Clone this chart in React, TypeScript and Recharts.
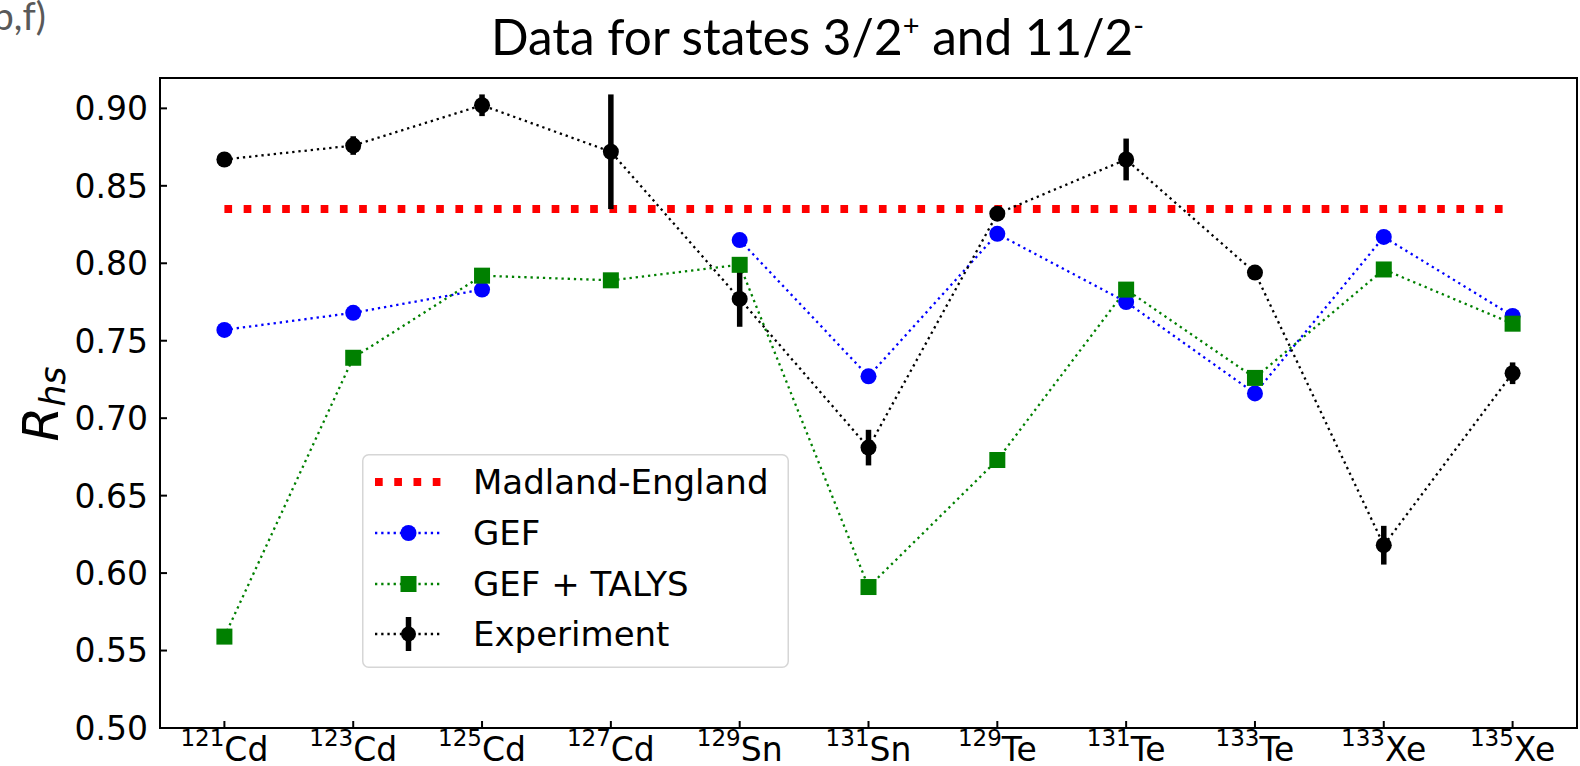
import React from "react";
import {
  ComposedChart,
  Line,
  XAxis,
  YAxis,
  ErrorBar,
  Legend,
  ReferenceArea,
} from "recharts";

const masses = ["121", "123", "125", "127", "129", "131", "129", "131", "133", "133", "135"];
const elements = ["Cd", "Cd", "Cd", "Cd", "Sn", "Sn", "Te", "Te", "Te", "Xe", "Xe"];
const madlandEngland = [0.835, 0.835, 0.835, 0.835, 0.835, 0.835, 0.835, 0.835, 0.835, 0.835, 0.835];
const gef = [0.757, 0.768, 0.783, null, 0.815, 0.727, 0.819, 0.775, 0.716, 0.817, 0.766];
const gefTalys = [0.559, 0.739, 0.792, 0.789, 0.799, 0.591, 0.673, 0.783, 0.726, 0.796, 0.761];
const experiment = [0.867, 0.876, 0.902, 0.872, 0.777, 0.681, 0.832, 0.867, 0.794, 0.618, 0.729];
const experimentErr = [0.003, 0.006, 0.007, 0.037, 0.018, 0.0115, 0.003, 0.0135, 0.003, 0.0125, 0.007];
const yTicks = [0.5, 0.55, 0.6, 0.65, 0.7, 0.75, 0.8, 0.85, 0.9];
const yDomain: [number, number] = [0.5, 0.9196];
const frameDomain: [number, number] = [0, 10];
const legendOrder = ["me", "gef", "talys", "exp"];

const categories = masses.map((m, i) => m + elements[i]);

const data = categories.map((name, i) => ({
  name,
  me: madlandEngland[i],
  gef: gef[i],
  talys: gefTalys[i],
  exp: experiment[i],
  expErr: experimentErr[i],
}));

const FONT = "'DejaVu Sans', sans-serif";

const YTick = (props: any) => {
  const { x, y, payload } = props;
  return (
    <g>
      <line x1={x} x2={x + 7} y1={y} y2={y} stroke="#000" strokeWidth={2} />
      <text x={x - 12} y={y} dy="0.36em" textAnchor="end" fontSize={33} fontFamily={FONT} fill="#000">
        {Number(payload.value).toFixed(2)}
      </text>
    </g>
  );
};

const XTick = (props: any) => {
  const { x, y, payload } = props;
  const i = categories.indexOf(payload.value);
  return (
    <g>
      <line x1={x} x2={x} y1={y} y2={y - 7} stroke="#000" strokeWidth={2} />
      <text x={x} y={y + 33} textAnchor="middle" fontFamily={FONT} fill="#000">
        <tspan fontSize={23} dy={-15}>{masses[i]}</tspan>
        <tspan fontSize={33} dy={15}>{elements[i]}</tspan>
      </text>
    </g>
  );
};

const SquareDot = (props: any) => {
  const { cx, cy, index } = props;
  if (cx == null || cy == null) return <g key={`sq-${index}`} />;
  return <rect key={`sq-${index}`} x={cx - 8} y={cy - 8} width={16} height={16} fill="#008000" />;
};

const rowY = [28, 79, 130, 180];

const legendIcon = (key: string, y: number) => {
  const x1 = 13;
  const x2 = 80;
  const cx = (x1 + x2) / 2;
  if (key === "me")
    return <line x1={x1} x2={x2} y1={y} y2={y} stroke="#ff0000" strokeWidth={8} strokeDasharray="7.7 11.55" />;
  if (key === "gef")
    return (
      <g>
        <line x1={x1} x2={x2} y1={y} y2={y} stroke="#0000ff" strokeWidth={2.3} strokeDasharray="2.3 3.9" />
        <circle cx={cx} cy={y} r={8} fill="#0000ff" />
      </g>
    );
  if (key === "talys")
    return (
      <g>
        <line x1={x1} x2={x2} y1={y} y2={y} stroke="#008000" strokeWidth={2.3} strokeDasharray="2.3 3.9" />
        <rect x={cx - 8} y={y - 8} width={16} height={16} fill="#008000" />
      </g>
    );
  return (
    <g>
      <line x1={x1} x2={x2} y1={y} y2={y} stroke="#000" strokeWidth={2.3} strokeDasharray="2.3 3.9" />
      <line x1={cx} x2={cx} y1={y - 17} y2={y + 17} stroke="#000" strokeWidth={5.5} />
      <circle cx={cx} cy={y} r={7.5} fill="#000" />
    </g>
  );
};

const renderLegend = (props: any) => {
  const items = ((props.payload || []) as any[])
    .slice()
    .sort((a, b) => legendOrder.indexOf(String(a.dataKey)) - legendOrder.indexOf(String(b.dataKey)));
  return (
    <svg width={427} height={214} style={{ display: "block" }}>
      <rect x={0.75} y={0.75} width={425.5} height={212.5} rx={6} fill="rgba(255,255,255,0.8)" stroke="#d6d6d6" strokeWidth={1.5} />
      {items.map((it, i) => (
        <g key={it.value}>
          {legendIcon(String(it.dataKey), rowY[i])}
          <text x={111} y={rowY[i]} dy="0.36em" fontSize={34} fontFamily={FONT} fill="#000">
            {it.value}
          </text>
        </g>
      ))}
    </svg>
  );
};

export default function App() {
  return (
    <div style={{ position: "absolute", left: 0, top: 0, width: 1580, height: 766, background: "#fff", overflow: "hidden" }}>
      <ComposedChart width={1580} height={766} data={data} margin={{ top: 78, right: 3, bottom: 0, left: 0 }}>
        <XAxis
          dataKey="name"
          type="category"
          height={38}
          padding={{ left: 64.4, right: 64.4 }}
          axisLine={false}
          tickLine={false}
          tickSize={0}
          tickMargin={0}
          interval={0}
          tick={<XTick />}
        />
        <XAxis xAxisId="frame" type="number" domain={frameDomain} allowDataOverflow hide />
        <YAxis
          type="number"
          width={160}
          domain={yDomain}
          ticks={yTicks}
          allowDataOverflow
          axisLine={false}
          tickLine={false}
          tickSize={0}
          tickMargin={0}
          interval={0}
          tick={<YTick />}
        />
        <Legend
          layout="vertical"
          align="center"
          verticalAlign="middle"
          content={renderLegend}
          wrapperStyle={{ left: 362, top: 454, width: 427, height: 214 }}
        />
        <Line
          dataKey="me"
          name="Madland-England"
          stroke="#ff0000"
          strokeWidth={8}
          strokeDasharray="7.7 11.55"
          dot={false}
          activeDot={false}
          isAnimationActive={false}
        />
        <Line
          dataKey="gef"
          name="GEF"
          stroke="#0000ff"
          strokeWidth={2.3}
          strokeDasharray="2.3 3.9"
          dot={{ r: 8, fill: "#0000ff", stroke: "none" }}
          activeDot={false}
          connectNulls={false}
          isAnimationActive={false}
        />
        <Line
          dataKey="talys"
          name="GEF + TALYS"
          stroke="#008000"
          strokeWidth={2.3}
          strokeDasharray="2.3 3.9"
          dot={SquareDot}
          activeDot={false}
          isAnimationActive={false}
        />
        <Line
          dataKey="exp"
          name="Experiment"
          stroke="#000"
          strokeWidth={2.3}
          strokeDasharray="2.3 3.9"
          dot={{ r: 8, fill: "#000", stroke: "none" }}
          activeDot={false}
          isAnimationActive={false}
        >
          <ErrorBar dataKey="expErr" direction="y" width={0} stroke="#000" strokeWidth={5.5} />
        </Line>
        <ReferenceArea
          xAxisId="frame"
          x1={frameDomain[0]}
          x2={frameDomain[1]}
          y1={yDomain[0]}
          y2={yDomain[1]}
          fill="none"
          fillOpacity={0}
          stroke="#000"
          strokeWidth={2}
          ifOverflow="visible"
        />
      </ComposedChart>
      <svg width={1580} height={766} style={{ position: "absolute", left: 0, top: 0, pointerEvents: "none" }}>
        <text x={46} y={30} textAnchor="end" fontSize={38} fontFamily="Lato, sans-serif" fill="#595959">
          (b,f)
        </text>
        <text x={491} y={55} fontSize={49.5} fontFamily="Lato, sans-serif" fill="#000">
          Data for states 3/2
          <tspan fontSize={29} dy={-19}>+</tspan>
          <tspan dy={19}> and 11/2</tspan>
          <tspan fontSize={29} dy={-19}>-</tspan>
        </text>
        <text
          x={58}
          y={404}
          transform="rotate(-90, 58, 404)"
          textAnchor="middle"
          fontSize={50}
          fontStyle="italic"
          fontFamily={FONT}
          fill="#000"
        >
          R<tspan fontSize={35} dy={7}>hs</tspan>
        </text>
      </svg>
    </div>
  );
}
